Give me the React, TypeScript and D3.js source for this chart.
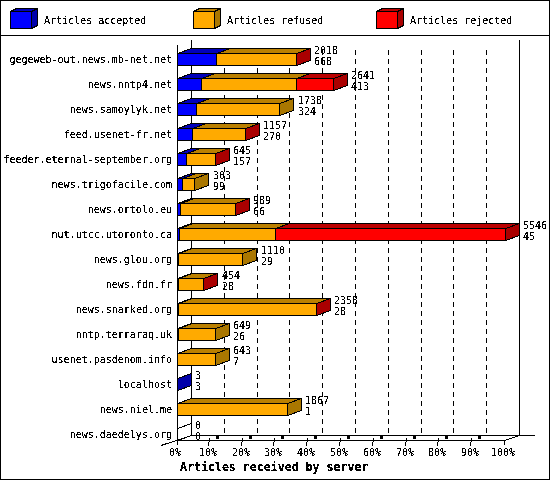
import * as d3 from "d3";
import { useEffect, useRef } from "react";

const servers = [
    "gegeweb-out.news.mb-net.net", "news.nntp4.net", "news.samoylyk.net", "feed.usenet-fr.net",
    "feeder.eternal-september.org", "news.trigofacile.com", "news.ortolo.eu", "nut.utcc.utoronto.ca",
    "news.glou.org", "news.fdn.fr", "news.snarked.org", "nntp.terraraq.uk",
    "usenet.pasdenom.info", "localhost", "news.niel.me", "news.daedelys.org",
];
const accepted = [668, 413, 324, 270, 157, 99, 66, 45, 29, 28, 28, 26, 7, 3, 1, 0];
const refused = [1349, 1611, 1414, 886, 487, 204, 922, 1624, 1081, 425, 2329, 623, 636, 0, 1866, 0];
const rejected = [1, 617, 0, 1, 1, 0, 1, 3877, 0, 1, 1, 0, 0, 0, 0, 0];
const percentTicks = [0, 10, 20, 30, 40, 50, 60, 70, 80, 90, 100];

const seriesNames = ["Articles accepted", "Articles refused", "Articles rejected"];
const seriesValues = [accepted, refused, rejected];
const colors = [
    { front: "#0000ff", top: "#0000bb", side: "#0000aa" },
    { front: "#ffaa00", top: "#bb8000", side: "#aa7700" },
    { front: "#ff0000", top: "#bb0000", side: "#aa0000" },
];

const WIDTH = 550;
const HEIGHT = 480;
const DEPTH_X = 14;
const DEPTH_Y = 5;
const FONT = "'DejaVu Sans Mono', monospace";

export default function App() {
    const ref = useRef<SVGSVGElement | null>(null);

    useEffect(() => {
        const svg = d3.select(ref.current);
        svg.selectAll("*").remove();

        // The original text is not antialiased, so threshold the glyphs
        const filter = svg.append("defs").append("filter")
            .attr("id", "hard")
            .attr("filterUnits", "userSpaceOnUse")
            .attr("x", 0).attr("y", 0)
            .attr("width", WIDTH).attr("height", HEIGHT)
            .attr("color-interpolation-filters", "sRGB");
        filter.append("feComponentTransfer")
            .append("feFuncA")
            .attr("type", "discrete")
            .attr("tableValues", "0 0 1 1 1");

        const totals = servers.map((_, i) => accepted[i] + refused[i] + rejected[i]);

        // front plane scales
        const x = d3.scaleLinear().domain([0, d3.max(totals)!]).range([177, 505]);
        const pct = d3.scaleLinear().domain([0, 100]).range([177, 505]);
        const y = d3.scaleBand()
            .domain(servers)
            .range([46.5, 446.5])
            .paddingInner(0.52)
            .paddingOuter(0.26);

        const line = (x1: number, y1: number, x2: number, y2: number) =>
            svg.append("line")
                .attr("x1", x1).attr("y1", y1)
                .attr("x2", x2).attr("y2", y2)
                .attr("stroke", "#000")
                .attr("stroke-width", 1)
                .attr("shape-rendering", "crispEdges");

        const poly = (pts: number[][], fill: string) =>
            svg.append("polygon")
                .attr("points", pts.map(p => p.join(",")).join(" "))
                .attr("fill", fill)
                .attr("stroke", "#000")
                .attr("stroke-width", 1)
                .attr("stroke-linejoin", "miter")
                .attr("shape-rendering", "crispEdges");

        // a box seen from the front, top and right
        const box = (x0: number, x1: number, y0: number, y1: number, dx: number, dy: number, c: typeof colors[0]) => {
            poly([[x0, y0], [x0 + dx, y0 - dy], [x1 + dx, y0 - dy], [x1, y0]], c.top);
            poly([[x1, y0], [x1 + dx, y0 - dy], [x1 + dx, y1 - dy], [x1, y1]], c.side);
            poly([[x0, y0], [x1, y0], [x1, y1], [x0, y1]], c.front);
        };

        svg.append("rect")
            .attr("x", 0.5).attr("y", 0.5)
            .attr("width", WIDTH - 1).attr("height", HEIGHT - 1)
            .attr("fill", "#fff")
            .attr("stroke", "#000")
            .attr("shape-rendering", "crispEdges");

        const labels = svg.append("g").attr("filter", "url(#hard)");

        const text = (s: string, tx: number, ty: number, anchor = "start") =>
            labels.append("text")
                .attr("x", tx)
                .attr("y", ty)
                .attr("text-anchor", anchor)
                .attr("font-family", FONT)
                .attr("font-size", 10)
                .attr("fill", "#000")
                .text(s);

        // Legend
        line(0, 35.5, WIDTH, 35.5);
        const legendX = [10.5, 193.5, 376.5];
        seriesNames.forEach((name, i) => {
            box(legendX[i], legendX[i] + 21, 11.5, 28.5, 6, 3, colors[i]);
            text(name, legendX[i] + 33.5, 24);
        });

        // Back wall and grid
        percentTicks.slice(1, -1).forEach(t => {
            line(Math.round(pct(t) + DEPTH_X) + 0.5, 50, Math.round(pct(t) + DEPTH_X) + 0.5, 435)
                .attr("stroke-dasharray", "5 4");
        });
        line(191.5, 40, 191.5, 435);
        line(519.5, 40, 519.5, 435);
        line(191, 435.5, 535, 435.5);
        line(177, 440.5, 505, 440.5);
        line(177.5, 45, 177.5, 445);
        line(161, 445.5, 191.5, 435.5);
        line(504.5, 440.5, 519.5, 435.5);

        // Floor ticks
        percentTicks.slice(1, -1).forEach(t => {
            const fx = Math.round(pct(t));
            line(fx - 2, 446, fx, 438);
            svg.append("rect")
                .attr("x", fx + 6).attr("y", 436)
                .attr("width", 3).attr("height", 3)
                .attr("fill", "#000");
        });
        line(504.5, 440, 504.5, 445);

        percentTicks.forEach(t => {
            text(`${t}%`, Math.round(pct(t) - 2), 456, "middle");
        });

        // Bars
        servers.forEach((name, i) => {
            const top = Math.round(y(name)!) + 0.5;
            const bottom = top + 12;
            if (totals[i] === 0) {
                // an empty row only leaves the outline of a zero width box
                box(177.5, 177.5, top, bottom, DEPTH_X, DEPTH_Y, { front: "none", top: "none", side: "none" });
            }
            let sum = 0;
            seriesValues.forEach((values, s) => {
                const v = values[i];
                if (v > 0) {
                    const x0 = Math.floor(x(sum)) + 0.5;
                    const x1 = Math.floor(x(sum + v)) + 0.5;
                    box(x0, x1, top, bottom, DEPTH_X, DEPTH_Y, colors[s]);
                }
                sum += v;
            });
        });

        // Labels are on top of the bars
        servers.forEach((name, i) => {
            const mid = y(name)! + y.bandwidth() / 2;
            text(name, 172, mid + 4, "end");
            const lx = Math.round(x(totals[i]) + DEPTH_X + 4);
            text(String(totals[i]), lx, mid - 5);
            text(String(accepted[i]), lx, mid + 6);
        });

        labels.append("text")
            .attr("x", 180)
            .attr("y", 471)
            .attr("font-family", FONT)
            .attr("font-size", 11.6)
            .attr("font-weight", "bold")
            .attr("fill", "#000")
            .text("Articles received by server");

        labels.raise();
    }, []);

    return (
        <svg
            ref={ref}
            width={WIDTH}
            height={HEIGHT}
            style={{ position: "absolute", left: 0, top: 0 }}
        />
    );
}
